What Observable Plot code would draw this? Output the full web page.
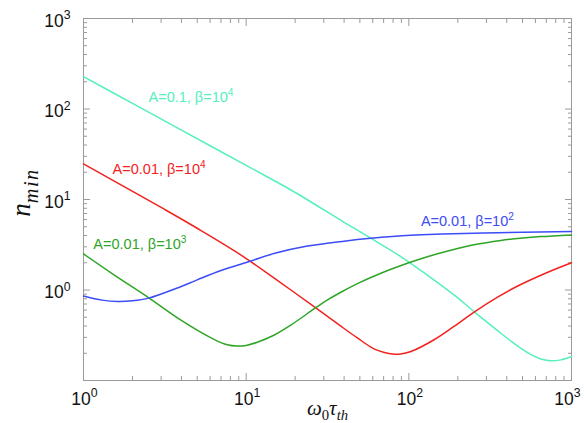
<!DOCTYPE html>
<html><head><meta charset="utf-8">
<script src="https://cdn.jsdelivr.net/npm/d3@7"></script>
<script src="https://cdn.jsdelivr.net/npm/@observablehq/plot@0.6"></script>
<style>body{margin:0;background:#fff}svg{display:block}</style>
</head><body><div id="chart"></div>
<script>
// ---- data ----
const cyanX = [1, 2, 4, 10, 19.2, 40, 58.3, 89.3, 143.2, 190.5, 251.2, 319.9, 368.1, 424.6, 488.7, 563.6, 648.6, 748.2, 861, 1000];
const cyanY = [228, 115.3, 58.5, 23.8, 12.5, 5.60, 3.74, 2.344, 1.288, 0.877, 0.579, 0.407, 0.333, 0.272, 0.226, 0.193, 0.173, 0.165, 0.169, 0.184];

const redX = [1, 1.535, 3, 5, 9.25, 14.8, 26.8, 38.2, 48.3, 61, 70.8, 79.4, 89.1, 103, 143, 190.5, 252, 351, 467, 681, 1000];
const redY = [24.7, 16.1, 8.17, 4.81, 2.45, 1.36, 0.634, 0.398, 0.295, 0.224, 0.204, 0.196, 0.196, 0.209, 0.282, 0.398, 0.569, 0.832, 1.107, 1.514, 2.0];

const greenX = [1, 1.54, 2.52, 3.95, 6.34, 7.66, 8.79, 10, 11.7, 14.8, 18.8, 26.8, 31.6, 38.2, 48.3, 67.3, 100, 130, 181, 251, 368, 501, 649, 1000];
const greenY = [2.5, 1.469, 0.820, 0.468, 0.285, 0.248, 0.240, 0.244, 0.265, 0.316, 0.409, 0.637, 0.776, 0.944, 1.175, 1.531, 2.0, 2.333, 2.754, 3.162, 3.532, 3.750, 3.890, 4.064];

const blueX = [1, 1.3, 1.62, 2.0, 2.52, 3.77, 5.0, 7.0, 10.7, 15, 23.8, 40, 58.3, 103, 158.5, 290, 1000];
const blueY = [0.859, 0.773, 0.745, 0.759, 0.813, 1.052, 1.294, 1.641, 2.094, 2.541, 3.055, 3.467, 3.724, 4.027, 4.15, 4.266, 4.426];

const seriesNames = ["A=0.1, β=10^{4}", "A=0.01, β=10^{4}", "A=0.01, β=10^{3}", "A=0.01, β=10^{2}"];
const seriesColors = ["#55f0bd", "#f2221e", "#2ea526", "#3c4cf6"];
const labelX = [2.51, 1.51, 1.15, 118.6];
const labelY = [118, 19.3, 2.85, 5.12];

const xMajorTicks = [1, 10, 100, 1000];
const yMajorTicks = [0.1, 1, 10, 100, 1000];
const yTickLabels = [1, 10, 100, 1000];
const minorMultipliers = [2, 3, 4, 5, 6, 7, 8, 9];
const xMinorTicks = [1, 10, 100].flatMap(d => minorMultipliers.map(m => m * d));
const yMinorTicks = [0.1, 1, 10, 100].flatMap(d => minorMultipliers.map(m => m * d));

const xTitle = "ω_{0}τ_{th}";
const yTitle = "n_{min}";

// ---- build ----
const xs = [cyanX, redX, greenX, blueX];
const ys = [cyanY, redY, greenY, blueY];
const series = seriesNames.map((name, i) => ({
  name, color: seriesColors[i],
  rows: xs[i].map((x, j) => ({x, y: ys[i][j]}))
}));
const labels = seriesNames.map((t, i) => ({t, x: labelX[i], y: labelY[i], c: seriesColors[i]}));
const exp = v => `10^{${Math.round(Math.log10(v))}}`;

const frameColor = "#9a9a9a";
const tickMarks = [];
for (const anchor of ["bottom", "top"]) {
  tickMarks.push(Plot.axisX(xMajorTicks, {anchor, tickSize: -7, tickFormat: () => null, stroke: frameColor, label: null}));
  tickMarks.push(Plot.axisX(xMinorTicks, {anchor, tickSize: -4, tickFormat: () => null, stroke: frameColor, label: null}));
}
for (const anchor of ["left", "right"]) {
  tickMarks.push(Plot.axisY(yMajorTicks, {anchor, tickSize: -7, tickFormat: () => null, stroke: frameColor, label: null}));
  tickMarks.push(Plot.axisY(yMinorTicks, {anchor, tickSize: -4, tickFormat: () => null, stroke: frameColor, label: null}));
}
const serif = "'Liberation Serif', 'DejaVu Serif', serif";
const xLabelOpts = {x: d => d, frameAnchor: "bottom", text: exp, textAnchor: "middle", lineAnchor: "bottom", dy: 24, fontSize: 17.5, fill: "#111"};

const plot = Plot.plot({
  width: 584, height: 423,
  marginLeft: 83, marginRight: 13, marginTop: 18, marginBottom: 43,
  x: {type: "log", domain: [1, 1000]},
  y: {type: "log", domain: [0.1, 1000]},
  style: {fontFamily: "'Liberation Sans', Arial, Helvetica, sans-serif", background: "#fff", color: "#000"},
  marks: [
    ...tickMarks,
    Plot.frame({stroke: frameColor, strokeWidth: 1}),
    ...series.map(s => Plot.line(s.rows, {x: "x", y: "y", stroke: s.color, strokeWidth: 1.5, curve: "catmull-rom"})),
    Plot.text(labels, {x: "x", y: "y", text: "t", fill: "c", textAnchor: "start", lineAnchor: "bottom", fontSize: 14.5}),
    Plot.text(yTickLabels, {y: d => d, frameAnchor: "left", text: exp, textAnchor: "end", lineAnchor: "bottom", dx: -13, dy: 8, fontSize: 17.5, fill: "#111"}),
    Plot.text(xMajorTicks.slice(0, -1), {...xLabelOpts, dx: 1}),
    Plot.text(xMajorTicks.slice(-1), {...xLabelOpts, dx: -4}),
    Plot.text([xTitle], {text: d => d, frameAnchor: "bottom", textAnchor: "middle", lineAnchor: "bottom", dy: 34, fontSize: 21, fontStyle: "italic", fontFamily: serif, fill: "#111"}),
    Plot.text([yTitle], {text: d => d, frameAnchor: "left", rotate: -90, textAnchor: "middle", lineAnchor: "middle", dx: -62, dy: -7, fontSize: 27, fontStyle: "italic", fontFamily: serif, fill: "#111", letterSpacing: 1.5})
  ]
});
document.getElementById("chart").appendChild(plot);

// rich text: ^{..} superscripts, _{..} subscripts
const NS = "http://www.w3.org/2000/svg";
plot.querySelectorAll("text").forEach(t => {
  const s = t.textContent;
  if (!/[_^]\{/.test(s)) return;
  const fs = parseFloat(getComputedStyle(t).fontSize) || 14;
  const big = fs > 24;
  t.textContent = "";
  const re = /([_^])\{([^}]*)\}|([^_^]+)/g;
  let m, shift = 0;
  while ((m = re.exec(s))) {
    const span = document.createElementNS(NS, "tspan");
    if (m[1]) {
      const target = m[1] === "^" ? -0.42 * fs : 0.28 * fs;
      span.setAttribute("dy", target - shift);
      span.setAttribute("font-size", ((big ? 0.75 : 0.7) * fs).toFixed(1));
      if (m[1] === "_") span.setAttribute("font-style", m[2] === "0" ? "normal" : "italic");
      if (big) span.setAttribute("letter-spacing", "1.5");
      span.textContent = m[2];
      shift = target;
    } else {
      if (shift) span.setAttribute("dy", -shift);
      span.textContent = m[3];
      shift = 0;
    }
    t.appendChild(span);
  }
});
</script>
</body></html>
